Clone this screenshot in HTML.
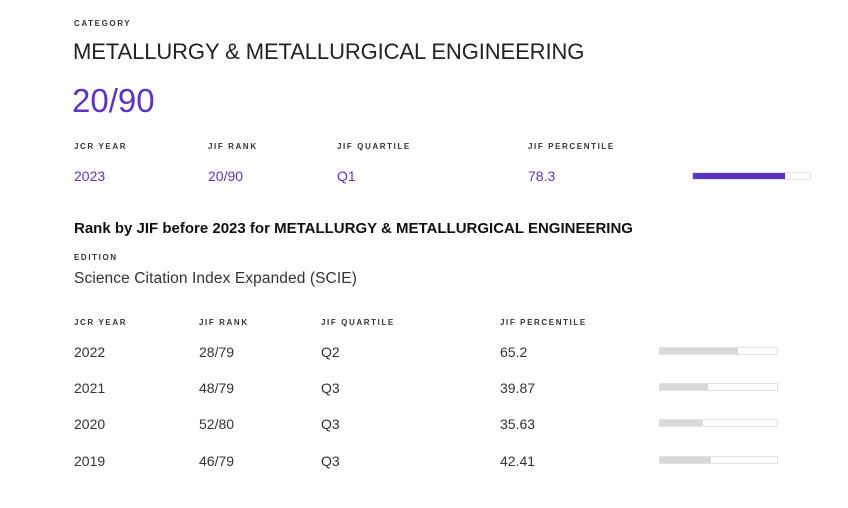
<!DOCTYPE html>
<html><head><meta charset="utf-8"><style>
body{margin:0;width:848px;height:508px;background:#fff;font-family:"Liberation Sans",sans-serif;position:relative;overflow:hidden}
.a{position:absolute;white-space:nowrap;line-height:1}
.h{font-size:8px;font-weight:bold;letter-spacing:1.6px;color:#333}
.v{font-size:14px;color:#333}
.p{color:#5e33bf}
.bar{position:absolute;height:8px;border:1px solid #e2e2e2;background:#fff;box-sizing:border-box}
.bar i{position:absolute;left:0;top:0;bottom:0;background:#d9d9d9}
</style></head><body>
<div class="a h" style="left:74px;top:20px">CATEGORY</div>
<div class="a" style="left:73px;top:41px;font-size:22px;color:#222;letter-spacing:-0.1px">METALLURGY &amp; METALLURGICAL ENGINEERING</div>
<div class="a p" style="left:72px;top:84px;font-size:33px">20/90</div>

<div class="a h" style="left:74px;top:143px">JCR YEAR</div>
<div class="a h" style="left:208px;top:143px">JIF RANK</div>
<div class="a h" style="left:337px;top:143px">JIF QUARTILE</div>
<div class="a h" style="left:528px;top:143px">JIF PERCENTILE</div>
<div class="a v p" style="left:74px;top:169px">2023</div>
<div class="a v p" style="left:208px;top:169px">20/90</div>
<div class="a v p" style="left:337px;top:169px">Q1</div>
<div class="a v p" style="left:528px;top:169px">78.3</div>
<div class="bar" style="left:692px;top:172px;width:119px"><i style="width:92px;background:#5e33bf"></i></div>

<div class="a" style="left:74px;top:221px;font-size:15px;font-weight:bold;color:#111;letter-spacing:0px">Rank by JIF before 2023 for METALLURGY &amp; METALLURGICAL ENGINEERING</div>
<div class="a h" style="left:74px;top:254px">EDITION</div>
<div class="a" style="left:74px;top:271px;font-size:15.5px;color:#333;letter-spacing:0.1px">Science Citation Index Expanded (SCIE)</div>

<div class="a h" style="left:74px;top:319px">JCR YEAR</div>
<div class="a h" style="left:199px;top:319px">JIF RANK</div>
<div class="a h" style="left:321px;top:319px">JIF QUARTILE</div>
<div class="a h" style="left:500px;top:319px">JIF PERCENTILE</div>

<div class="a v" style="left:74px;top:345px">2022</div><div class="a v" style="left:199px;top:345px">28/79</div><div class="a v" style="left:321px;top:345px">Q2</div><div class="a v" style="left:500px;top:345px">65.2</div>
<div class="bar" style="left:659px;top:347px;width:119px"><i style="width:78px"></i></div>
<div class="a v" style="left:74px;top:381px">2021</div><div class="a v" style="left:199px;top:381px">48/79</div><div class="a v" style="left:321px;top:381px">Q3</div><div class="a v" style="left:500px;top:381px">39.87</div>
<div class="bar" style="left:659px;top:383px;width:119px"><i style="width:48px"></i></div>
<div class="a v" style="left:74px;top:417px">2020</div><div class="a v" style="left:199px;top:417px">52/80</div><div class="a v" style="left:321px;top:417px">Q3</div><div class="a v" style="left:500px;top:417px">35.63</div>
<div class="bar" style="left:659px;top:419px;width:119px"><i style="width:43px"></i></div>
<div class="a v" style="left:74px;top:454px">2019</div><div class="a v" style="left:199px;top:454px">46/79</div><div class="a v" style="left:321px;top:454px">Q3</div><div class="a v" style="left:500px;top:454px">42.41</div>
<div class="bar" style="left:659px;top:456px;width:119px"><i style="width:51px"></i></div>
</body></html>
